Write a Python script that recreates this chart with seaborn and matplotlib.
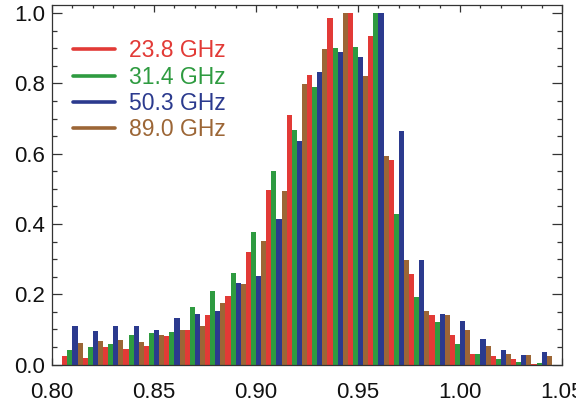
import pandas as pd
import numpy as np
import matplotlib
matplotlib.use('Agg')
import matplotlib.pyplot as plt
from matplotlib.lines import Line2D
from matplotlib.ticker import MultipleLocator, FormatStrFormatter
import seaborn as sns

# centros de los bins del histograma
bins = [0.80, 0.81, 0.82, 0.83, 0.84, 0.85, 0.86, 0.87, 0.88, 0.89,
        0.90, 0.91, 0.92, 0.93, 0.94, 0.95, 0.96, 0.97, 0.98, 0.99,
        1.00, 1.01, 1.02, 1.03, 1.04]

# histogramas normalizados, uno por canal
f238 = [0.0, 0.024, 0.018, 0.049, 0.044, 0.052, 0.081, 0.099, 0.142, 0.194,
        0.319, 0.497, 0.710, 0.824, 0.987, 1.000, 0.936, 0.582, 0.257, 0.142,
        0.084, 0.031, 0.024, 0.016, 0.003]
f314 = [0.0, 0.042, 0.050, 0.059, 0.084, 0.091, 0.094, 0.165, 0.209, 0.260,
        0.376, 0.552, 0.667, 0.790, 0.900, 0.903, 1.000, 0.429, 0.192, 0.121,
        0.059, 0.030, 0.016, 0.008, 0.005]
f503 = [0.0, 0.111, 0.095, 0.109, 0.109, 0.098, 0.132, 0.144, 0.152, 0.231,
        0.252, 0.413, 0.637, 0.832, 0.890, 0.876, 1.000, 0.664, 0.298, 0.144,
        0.123, 0.072, 0.042, 0.028, 0.036]
f890 = [0.0, 0.061, 0.068, 0.069, 0.063, 0.085, 0.099, 0.110, 0.176, 0.229,
        0.351, 0.495, 0.797, 0.898, 1.000, 0.821, 0.593, 0.297, 0.153, 0.142,
        0.099, 0.054, 0.030, 0.027, 0.025]

labels = ['23.8 GHz', '31.4 GHz', '50.3 GHz', '89.0 GHz']
colors = ['#e23a36', '#2e9b40', '#2b3a8e', '#9c6636']

# tabla larga para seaborn
df = pd.DataFrame({
    'bin': bins * 4,
    'value': f238 + f314 + f503 + f890,
    'channel': sum([[lab] * len(bins) for lab in labels], []),
})

sns.set_style('ticks')
plt.rcParams['font.family'] = ['Liberation Sans', 'DejaVu Sans']

fig = plt.figure(figsize=(5.76, 4.03), dpi=100)
ax = fig.add_axes([0.0903, 0.0953, 0.8854, 0.8923])

sns.barplot(data=df, x='bin', y='value', hue='channel', hue_order=labels,
            palette=dict(zip(labels, colors)), native_scale=True, width=1.0,
            gap=0, dodge=True, errorbar=None, linewidth=0, saturation=1,
            legend=False, ax=ax)

ax.set_xlim(0.80, 1.05)
ax.set_ylim(0, 1.023)
ax.set_xlabel('')
ax.set_ylabel('')

ax.xaxis.set_major_locator(MultipleLocator(0.05))
ax.xaxis.set_minor_locator(MultipleLocator(0.01))
ax.xaxis.set_major_formatter(FormatStrFormatter('%.2f'))
ax.yaxis.set_major_locator(MultipleLocator(0.2))
ax.yaxis.set_minor_locator(MultipleLocator(0.05))
ax.yaxis.set_major_formatter(FormatStrFormatter('%.1f'))

ax.tick_params(which='both', direction='in', top=True, right=True,
               color='#333333', width=0.9, labelsize=16, labelcolor='#111111')
ax.tick_params(axis='x', which='major', length=5, pad=12.5)
ax.tick_params(axis='x', which='minor', length=2.5)
ax.tick_params(axis='y', which='major', length=7.3, pad=5)
ax.tick_params(axis='y', which='minor', length=3.6)
for sp in ax.spines.values():
    sp.set_visible(True)
    sp.set_linewidth(0.9)
    sp.set_color('#333333')

handles = [Line2D([0], [0], color=c, lw=2.6) for c in colors]
ax.legend(handles, labels, loc='upper left', bbox_to_anchor=(0.041, 0.905),
          frameon=False, borderpad=0, borderaxespad=0, handlelength=1.85,
          handletextpad=0.6, labelspacing=0.15, fontsize=16.5,
          labelcolor=colors)

plt.savefig('out.png', dpi=100)
